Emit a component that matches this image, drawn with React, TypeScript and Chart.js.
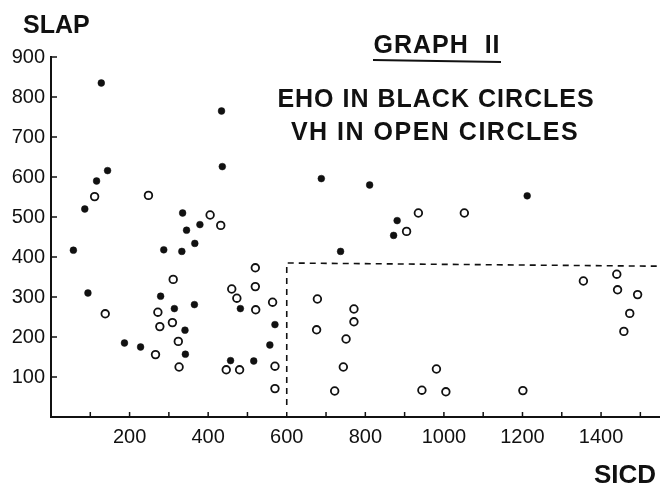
import React, { useEffect, useRef } from "react";
import { Chart, registerables } from "chart.js";

Chart.register(...registerables);

// EHO (black circles): [SICD, SLAP]
const ehoSicd = [128, 434, 436, 144, 116, 86, 335, 345, 379, 57, 287, 333, 366, 94, 279, 365, 314, 341, 187, 228, 342, 482, 457, 737, 570, 557, 516, 688, 811, 881, 872, 1212];
const ehoSlap = [835, 765, 626, 616, 590, 520, 510, 467, 481, 417, 418, 414, 434, 310, 302, 281, 271, 217, 185, 175, 157, 271, 141, 414, 231, 180, 140, 596, 580, 491, 454, 553];

// VH (open circles)
const vhSicd = [111, 248, 405, 432, 138, 311, 272, 277, 309, 324, 266, 326, 460, 473, 446, 480, 520, 520, 564, 521, 570, 570, 678, 676, 771, 771, 751, 744, 722, 981, 944, 935, 905, 1052, 1355, 1440, 1442, 1493, 1473, 1458, 1005, 1201];
const vhSlap = [551, 554, 505, 479, 258, 344, 262, 226, 236, 189, 156, 125, 320, 297, 118, 118, 373, 326, 287, 268, 127, 71, 295, 218, 270, 238, 195, 125, 65, 120, 67, 510, 464, 510, 340, 357, 318, 306, 259, 214, 63, 66];

// dashed boundary
const boundSicd = [600, 600, 1550];
const boundSlap = [30, 385, 377];

const xTickValues = [100, 200, 300, 400, 500, 600, 700, 800, 900, 1000, 1100, 1200, 1300, 1400, 1500];
const xLabelValues = [200, 400, 600, 800, 1000, 1200, 1400];
const yTickValues = [100, 200, 300, 400, 500, 600, 700, 800, 900];

const titleMain = "GRAPH  II";
const legendLine1 = "EHO IN BLACK CIRCLES";
const legendLine2 = "VH IN OPEN CIRCLES";
const yTitle = "SLAP";
const xTitle = "SICD";

const toPoints = (xs: number[], ys: number[]) => xs.map((x, i) => ({ x, y: ys[i] }));

const decorPlugin = {
  id: "decor",
  afterDraw(chart: any) {
    const ctx = chart.ctx as CanvasRenderingContext2D;
    const xs = chart.scales.x;
    const ys = chart.scales.y;
    const ca = chart.chartArea;
    ctx.save();
    ctx.strokeStyle = "#111";
    ctx.lineWidth = 1.5;
    // inward ticks
    xTickValues.forEach((v) => {
      const px = xs.getPixelForValue(v);
      ctx.beginPath();
      ctx.moveTo(px, ca.bottom);
      ctx.lineTo(px, ca.bottom - 5);
      ctx.stroke();
    });
    yTickValues.forEach((v) => {
      const py = ys.getPixelForValue(v);
      ctx.beginPath();
      ctx.moveTo(ca.left, py);
      ctx.lineTo(ca.left + 6, py);
      ctx.stroke();
    });
    // texts
    ctx.fillStyle = "#111";
    ctx.textBaseline = "alphabetic";
    (ctx as any).letterSpacing = "0px";
    ctx.font = 'bold 25px "Liberation Sans", Arial, sans-serif';
    ctx.textAlign = "left";
    ctx.fillText(yTitle, 23, 33);
    ctx.font = 'bold 26px "Liberation Sans", Arial, sans-serif';
    ctx.textAlign = "right";
    ctx.fillText(xTitle, 656, 483);

    ctx.textAlign = "center";
    (ctx as any).letterSpacing = "1px";
    ctx.font = 'bold 25px "Liberation Sans", Arial, sans-serif';
    ctx.fillText(titleMain, 437, 53);
    ctx.lineWidth = 2;
    ctx.beginPath();
    ctx.moveTo(373, 60);
    ctx.lineTo(501, 62);
    ctx.stroke();

    (ctx as any).letterSpacing = "1px";
    ctx.font = 'bold 25px "Liberation Sans", Arial, sans-serif';
    ctx.fillText(legendLine1, 436, 107);
    (ctx as any).letterSpacing = "1.5px";
    ctx.fillText(legendLine2, 435, 140);
    ctx.restore();
  },
};

export default function App() {
  const ref = useRef<HTMLCanvasElement | null>(null);
  useEffect(() => {
    if (!ref.current) return;
    const chart = new Chart(ref.current, {
      type: "scatter",
      data: {
        datasets: [
          {
            label: "boundary",
            type: "line",
            data: toPoints(boundSicd, boundSlap),
            borderColor: "#111",
            borderWidth: 1.6,
            borderDash: [6, 5],
            pointRadius: 0,
            fill: false,
            tension: 0,
          } as any,
          {
            label: "EHO",
            data: toPoints(ehoSicd, ehoSlap),
            pointRadius: 3.4,
            pointBackgroundColor: "#111",
            pointBorderColor: "#111",
            pointBorderWidth: 0.5,
          },
          {
            label: "VH",
            data: toPoints(vhSicd, vhSlap),
            pointRadius: 3.8,
            pointBackgroundColor: "#fff",
            pointBorderColor: "#111",
            pointBorderWidth: 1.8,
          },
        ],
      },
      options: {
        animation: false,
        responsive: false,
        maintainAspectRatio: false,
        layout: { autoPadding: false, padding: { top: 57, left: 0, right: 0, bottom: 0 } },
        plugins: { legend: { display: false }, tooltip: { enabled: false } },
        scales: {
          x: {
            type: "linear",
            min: 0,
            max: 1550,
            afterFit: (s: any) => {
              s.height = 72;
              s.paddingLeft = 0;
              s.paddingRight = 0;
            },
            grid: { display: false, drawTicks: false },
            border: { display: true, color: "#111", width: 2 },
            ticks: {
              autoSkip: false,
              maxRotation: 0,
              stepSize: 100,
              padding: 8,
              color: "#111",
              font: { family: '"Liberation Sans", Arial, sans-serif', size: 20 },
              callback: (v: any) => (xLabelValues.includes(Number(v)) ? String(v) : ""),
            },
          },
          y: {
            type: "linear",
            min: 0,
            max: 900,
            afterFit: (s: any) => {
              s.width = 51;
              s.paddingTop = 0;
              s.paddingBottom = 0;
            },
            grid: { display: false, drawTicks: false },
            border: { display: true, color: "#111", width: 2 },
            ticks: {
              autoSkip: false,
              stepSize: 100,
              padding: 6,
              color: "#111",
              font: { family: '"Liberation Sans", Arial, sans-serif', size: 20 },
              callback: (v: any) => (yTickValues.includes(Number(v)) ? String(v) : ""),
            },
          },
        },
      },
      plugins: [decorPlugin],
    });
    return () => chart.destroy();
  }, []);
  return (
    <div style={{ position: "absolute", left: 0, top: 0, width: 660, height: 489, background: "#fff" }}>
      <canvas ref={ref} width={660} height={489} style={{ display: "block" }} />
    </div>
  );
}
